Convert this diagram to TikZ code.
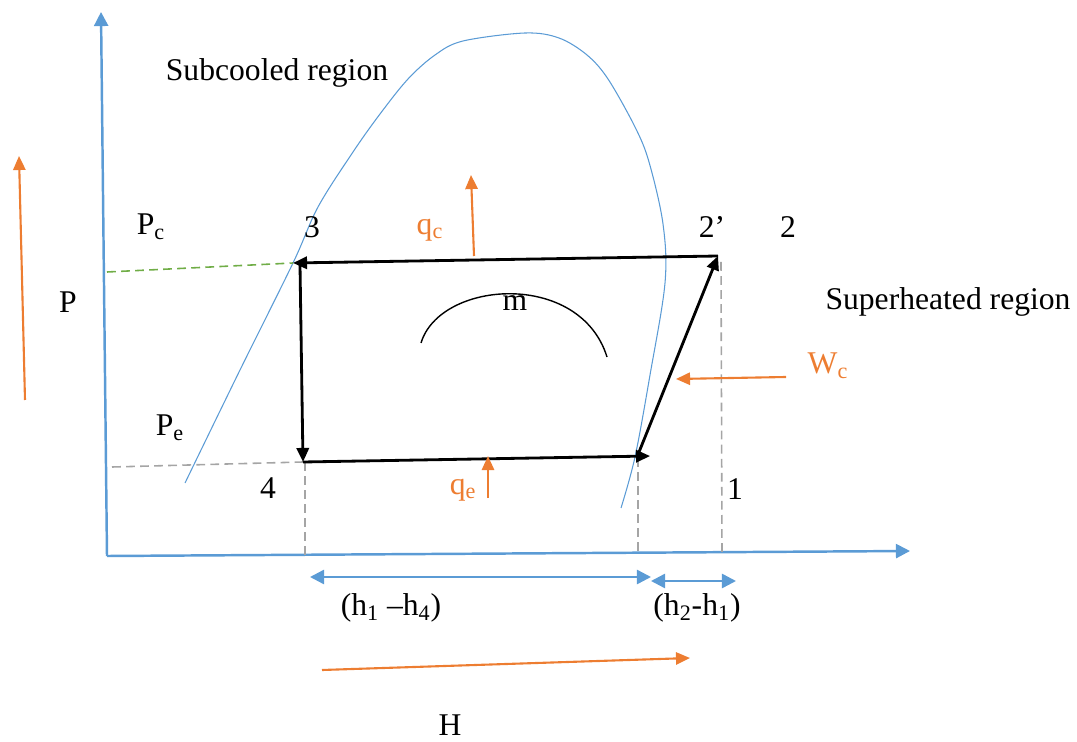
\documentclass[tikz,border=0pt]{standalone}
\usepackage{fontspec}
\setmainfont{Liberation Serif}
\usetikzlibrary{arrows.meta}
\definecolor{axblue}{HTML}{5B9BD5}
\definecolor{orng}{HTML}{ED7D31}
\definecolor{grn}{HTML}{70AD47}
\definecolor{gry}{HTML}{A5A5A5}
\begin{document}
\begin{tikzpicture}[x=0.02cm,y=-0.02cm,
  lbl/.style={inner sep=0pt,font=\fontsize{18}{20}\selectfont},
  olbl/.style={lbl,text=orng},
  axis/.style={draw=axblue,line width=1.4pt,-{Triangle[length=8pt,width=8pt]}},
  dim/.style={draw=axblue,line width=1.4pt,{Triangle[length=8pt,width=8pt]}-{Triangle[length=8pt,width=8pt]}},
  oarrow/.style={draw=orng,line width=1.2pt,-{Triangle[length=8pt,width=7pt]}},
  cyc/.style={draw=black,line width=1.6pt,-{Triangle[length=8pt,width=7pt]}},
  gdash/.style={draw=gry,line width=0.9pt,dash pattern=on 5pt off 3pt},
  greendash/.style={draw=grn,line width=0.9pt,dash pattern=on 5pt off 3pt},
  dome/.style={draw=axblue,line width=0.6pt}]
\useasboundingbox (0,0) rectangle (1077,742);

% axes
\coordinate (O) at (107,556);
\coordinate (Ptop) at (101,12);
\coordinate (Hend) at (910,551);
\draw[axis] (O) -- (Ptop);
\draw[axis] (O) -- (Hend);

% saturation dome
\draw[dome] plot[smooth,tension=0.55] coordinates {(185,483) (240,370) (293,263) (318,207) (353,152) (380,114) (408,79) (435,55) (463,41) (525,33) (559,38) (587,55) (608,79) (635,127) (649,162) (663,224) (665,283) (650,375) (635,457) (621,508)};

% cycle points
\coordinate (s3) at (293,263);
\coordinate (s3v) at (300,265);
\coordinate (s2p) at (718,256);
\coordinate (s4) at (303,462);
\coordinate (s1) at (650,456);
\coordinate (s1a) at (637,457);

% dashed guides
\coordinate (gPc) at (107,272);
\coordinate (gPe) at (112,467);
\coordinate (g4t) at (305,462);
\coordinate (g4b) at (305,555);
\coordinate (g1t) at (638,458);
\coordinate (g1b) at (638,555);
\coordinate (g2t) at (721,262);
\coordinate (g2b) at (722,555);
\draw[greendash] (gPc) -- (s3);
\draw[gdash] (gPe) -- (s4);
\draw[gdash] (g4t) -- (g4b);
\draw[gdash] (g1t) -- (g1b);
\draw[gdash] (g2t) -- (g2b);

% cycle
\draw[cyc] (s2p) -- (s3);
\draw[cyc] (s3v) -- (s4);
\draw[cyc] (s4) -- (s1);
\draw[cyc] (s1a) -- (s2p);

% arc m
\coordinate (mA) at (421,343);
\coordinate (mB) at (607,357);
\draw[line width=0.8pt] (mA) .. controls (440,280) and (580,270) .. (mB);

% orange arrows
\coordinate (pa) at (25,400); \coordinate (pb) at (19,156);
\coordinate (qca) at (474,256); \coordinate (qcb) at (471,175);
\coordinate (qea) at (488,498); \coordinate (qeb) at (488,456);
\coordinate (wa) at (786,377); \coordinate (wb) at (676,379);
\coordinate (ha) at (322,670); \coordinate (hb) at (690,658);
\draw[oarrow] (pa) -- (pb);
\draw[oarrow] (qca) -- (qcb);
\draw[oarrow] (qea) -- (qeb);
\draw[oarrow] (wa) -- (wb);
\draw[oarrow] (ha) -- (hb);

% dimension arrows
\coordinate (d1a) at (310,577); \coordinate (d1b) at (651,577);
\coordinate (d2a) at (651,581); \coordinate (d2b) at (736,581);
\draw[dim] (d1a) -- (d1b);
\draw[dim] (d2a) -- (d2b);

% labels
\node[lbl] (tsub) at (277,73) {Subcooled region};
\node[lbl] (tpc) at (151,227) {P\textsubscript{c}};
\node[lbl] (t3) at (312,227) {3};
\node[olbl] (tqc) at (430,230) {q\textsubscript{c}};
\node[lbl] (t2p) at (712,227) {2’};
\node[lbl] (t2) at (788,227) {2};
\node[lbl] (tP) at (68,302) {P};
\node[lbl] (tsup) at (948,302) {Superheated region};
\node[lbl] (tm) at (515,303) {m};
\node[olbl] (twc) at (828,366) {W\textsubscript{c}};
\node[lbl] (tpe) at (170,428) {P\textsubscript{e}};
\node[lbl] (t4) at (268,488) {4};
\node[olbl] (tqe) at (463,490) {q\textsubscript{e}};
\node[lbl] (t1) at (735,489) {1};
\node[lbl] (th14) at (391,608) {(h\textsubscript{1} –h\textsubscript{4})};
\node[lbl] (th21) at (697,608) {(h\textsubscript{2}-h\textsubscript{1})};
\node[lbl] (tH) at (450,725) {H};
\end{tikzpicture}
\end{document}
